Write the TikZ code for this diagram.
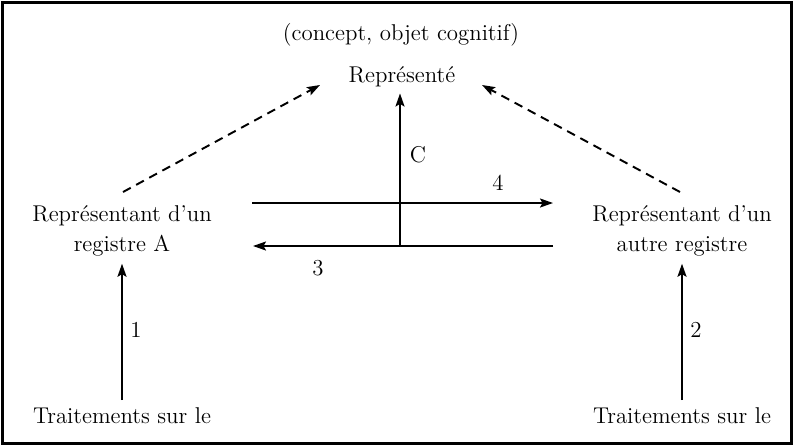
\documentclass[tikz,border=0pt]{standalone}
\usetikzlibrary{arrows.meta}
\begin{document}
\begin{tikzpicture}[x=0.02cm,y=-0.02cm,
        texte/.style={font=\fontsize{13}{17.5}\selectfont,align=center,inner sep=0pt},
        bloc/.style={texte,outer sep=4pt},
        fleche/.style={line width=1.1pt,-{Stealth[length=2.6mm,width=1.8mm,inset=0.5mm]}},
        pointilles/.style={fleche,dash pattern=on 5pt off 3.5pt}]
    \useasboundingbox (0,0) rectangle (794,447);
    \draw [line width=1.2pt] (2.5,2.5) rectangle (791.5,443.5);
    % textes
    \path (401,40) node [texte,anchor=base] (concept) {(concept, objet cognitif)};
    \path (402,82) node [bloc,anchor=base] (represente) {Représenté};
    \path (122,231) node [bloc] (registreA) {Représentant d’un\\registre A};
    \path (682,231) node [bloc] (autreRegistre) {Représentant d’un\\autre registre};
    \path (122,423) node [bloc,anchor=base] (traitementsA) {Traitements sur le};
    \path (682,423) node [bloc,anchor=base] (traitementsB) {Traitements sur le};
    % extremites libres
    \coordinate (departA) at (123,192);
    \coordinate (finA) at (320,85);
    \coordinate (departB) at (680,192);
    \coordinate (finB) at (482,85);
    \coordinate (departC) at (400,246);
    \coordinate (departQuatre) at (252,203);
    \coordinate (finQuatre) at (553,203);
    \coordinate (departTrois) at (553,246);
    \coordinate (finTrois) at (253,246);
    % fleches
    \draw [pointilles] (departA) -- (finA);
    \draw [pointilles] (departB) -- (finB);
    \draw [fleche] (departC) -- (represente.south -| departC);
    \draw [fleche] (departQuatre) -- (finQuatre);
    \draw [fleche] (departTrois) -- (finTrois);
    \draw [fleche] (traitementsA.north) -- (registreA.south);
    \draw [fleche] (traitementsB.north) -- (autreRegistre.south);
    % numeros
    \path (418,155) node [texte] (labelC) {C};
    \path (498,183) node [texte] (labelQuatre) {4};
    \path (318,268) node [texte] (labelTrois) {3};
    \path (136,330) node [texte] (labelUn) {1};
    \path (696,330) node [texte] (labelDeux) {2};
\end{tikzpicture}
\end{document}
